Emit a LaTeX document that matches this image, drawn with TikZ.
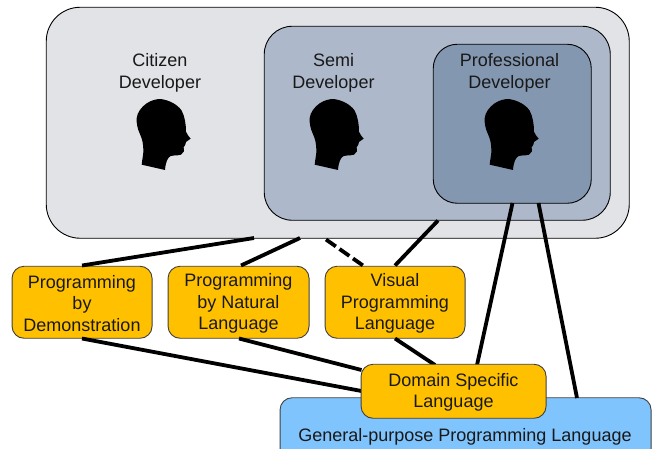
\documentclass[tikz,border=0pt]{standalone}
\usepackage{fontspec}
\setmainfont{Liberation Sans}
\definecolor{outerc}{HTML}{E1E3E6}
\definecolor{semic}{HTML}{ADB9CA}
\definecolor{profc}{HTML}{8497B0}
\definecolor{orangec}{HTML}{FFC000}
\definecolor{bluec}{HTML}{7FC4FD}
\tikzset{
  x=1pt,y=-1pt,
  txt/.style={font=\fontsize{18}{21.5}\selectfont,align=center,inner sep=0pt,text=black!90},
  group/.style={draw=black,line width=0.9pt,inner sep=0pt,anchor=north west},
  langbox/.style={group,draw=black!75,fill=orangec,rounded corners=12pt},
  link/.style={line width=3.8pt,black},
  headshape/.pic={
    \fill[black] (125,224) .. controls (127,205) and (131,190) .. (130,178)
      .. controls (129,160) and (128,150) .. (119,130)
      .. controls (113,118) and (109,100) .. (110,85)
      .. controls (111,68) and (125,50) .. (140,40)
      .. controls (155,30) and (170,27) .. (182,27)
      .. controls (205,30) and (232,42) .. (245,62)
      .. controls (255,80) and (258,105) .. (258,125)
      -- (264,136) -- (272,146) -- (258,156) -- (256,164) -- (251,172) -- (252,184) -- (243,194)
      .. controls (230,198) and (220,194) .. (212,198)
      .. controls (203,203) and (197,215) .. (195,240) -- cycle;
  }
}
\begin{document}
\begin{tikzpicture}
\useasboundingbox (0,0) rectangle (652,448);
\path[clip] (0,0) rectangle (652,448);
\node[group,fill=outerc,rounded corners=34pt,minimum width=583pt,minimum height=231pt] (citizen) at (45.8,6.8) {};
\node[group,fill=semic,rounded corners=28pt,minimum width=346pt,minimum height=194pt] (semi) at (263.8,25.8) {};
\node[group,fill=profc,rounded corners=24pt,minimum width=158pt,minimum height=159pt] (prof) at (432.8,43.8) {};
\node[txt] (citizenlabel) at (160,73) {Citizen\\Developer};
\node[txt] (semilabel) at (333.5,73) {Semi\\Developer};
\node[txt] (proflabel) at (509.5,73) {Professional\\Developer};
\begin{scope}[shift={(100,90)},x=0.3333pt,y=-0.3333pt]
\pic {headshape};
\end{scope}
\begin{scope}[shift={(273,90)},x=0.3333pt,y=-0.3333pt]
\pic {headshape};
\end{scope}
\begin{scope}[shift={(448,90)},x=0.3333pt,y=-0.3333pt]
\pic {headshape};
\end{scope}
\node[group,draw=black!75,fill=bluec,rounded corners=12pt,minimum width=371pt,minimum height=75pt] (gpl) at (279.6,397.3) {};
\node[txt] (gpllabel) at (465,436.5) {General-purpose Programming Language};
\node[langbox,minimum width=140pt,minimum height=72pt] (demo) at (11.6,265.8) {};
\node[langbox,minimum width=141pt,minimum height=72pt] (natural) at (167.6,265.8) {};
\node[langbox,minimum width=140pt,minimum height=72pt] (visual) at (324.6,265.8) {};
\coordinate (c1) at (254,238);
\coordinate (c2) at (300,238);
\coordinate (c3) at (326,239.5);
\coordinate (s1) at (438,220.5);
\coordinate (p1) at (512.5,203);
\coordinate (p2) at (538.5,203);
\coordinate (d1) at (361.5,391);
\coordinate (d2) at (361.5,370);
\coordinate (d3) at (435,365);
\coordinate (d4) at (477,365);
\coordinate (g1) at (577,398);
\coordinate (t1) at (82,265.5);
\coordinate (t2) at (241,265.5);
\coordinate (t3) at (363,265.5);
\coordinate (t4) at (395,265.5);
\coordinate (b1) at (82,338.5);
\coordinate (b2) at (239,338.5);
\coordinate (b3) at (395,338.5);
\draw[link] (c1) -- (t1);
\draw[link] (c2) -- (t2);
\draw[link,dash pattern=on 12pt off 4.5pt] (c3) -- (t3);
\draw[link] (s1) -- (t4);
\draw[link] (p1) -- (d4);
\draw[link] (p2) -- (g1);
\draw[link] (b1) -- (d1);
\draw[link] (b2) -- (d2);
\draw[link] (b3) -- (d3);
\node[langbox,minimum width=185pt,minimum height=54pt] (dsl) at (360.6,363.8) {};
\node[txt] at (82,303.5) {Programming\\by\\Demonstration};
\node[txt] at (238.5,303.5) {Programming\\by Natural\\Language};
\node[txt] at (395,303.5) {Visual\\Programming\\Language};
\node[txt] at (453.5,392.5) {Domain Specific\\Language};
\end{tikzpicture}
\end{document}
